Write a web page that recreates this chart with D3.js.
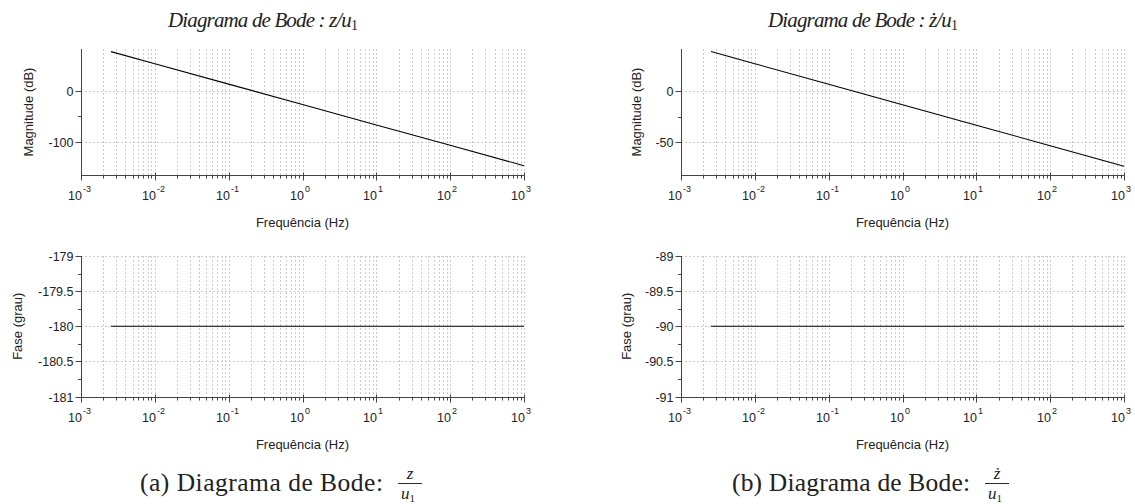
<!DOCTYPE html>
<html>
<head>
<meta charset="utf-8">
<script src="https://cdn.jsdelivr.net/npm/d3@7"></script>
<style>
  body { margin: 0; background: #fff; }
  text { fill: #222; }
</style>
</head>
<body>
<div id="chart"></div>
<script>
// values
var freqHz = [0.00255, 0.01, 0.1, 1, 10, 100, 1000];
var magZ = [76.9, 53.2, 13.2, -26.8, -66.8, -106.8, -146.8];
var magZdot = [38.5, 26.6, 6.6, -13.4, -33.4, -53.4, -73.4];
var phaseZ = [-180, -180, -180, -180, -180, -180, -180];
var phaseZdot = [-90, -90, -90, -90, -90, -90, -90];

var xTickExps = [-3, -2, -1, 0, 1, 2, 3];

var magTicksZ = [0, -100], magMinorZ = [-50];
var magTicksZdot = [0, -50], magMinorZdot = [-25];
var phaseTicksZ = [-179, -179.5, -180, -180.5, -181], phaseMinorZ = [-179.25, -179.75, -180.25, -180.75];
var phaseTicksZdot = [-89, -89.5, -90, -90.5, -91], phaseMinorZdot = [-89.25, -89.75, -90.25, -90.75];

var W = 1135, H = 504;
var plotW = 443;

var svg = d3.select("#chart").append("svg")
  .attr("width", W)
  .attr("height", H)
  .style("font-family", "'Liberation Sans', Arial, sans-serif");

var x = d3.scaleLog().domain([1e-3, 1e3]);

// minor decade positions for grid & ticks
var minorVals = [];
xTickExps.forEach(function(e) {
  if (e < 3) {
    for (var k = 2; k <= 9; k++) minorVals.push(k * Math.pow(10, e));
  }
});
var majorVals = xTickExps.map(function(e) { return Math.pow(10, e); });

function drawPlot(opts) {
  var g = svg.append("g").attr("transform", "translate(" + opts.left + "," + opts.top + ")");
  var h = opts.height;
  var xs = x.copy().range([0, plotW]);
  var ys = d3.scaleLinear().domain(opts.yDomain).range([h, 0]);

  // grid
  g.append("g").selectAll("line")
    .data(minorVals.concat(majorVals))
    .enter().append("line")
    .attr("x1", function(d) { return Math.round(xs(d)) + 0.5; })
    .attr("x2", function(d) { return Math.round(xs(d)) + 0.5; })
    .attr("y1", 0).attr("y2", h)
    .attr("stroke", "#cdcdcd")
    .attr("stroke-dasharray", "2,2");

  g.append("g").selectAll("line")
    .data(opts.yTicks)
    .enter().append("line")
    .attr("x1", 0).attr("x2", plotW)
    .attr("y1", function(d) { return Math.round(ys(d)) + 0.5; })
    .attr("y2", function(d) { return Math.round(ys(d)) + 0.5; })
    .attr("stroke", "#cdcdcd")
    .attr("stroke-dasharray", "2,2");

  // curve
  var line = d3.line()
    .x(function(d) { return xs(d[0]); })
    .y(function(d) { return ys(d[1]); });
  g.append("path")
    .datum(freqHz.map(function(f, i) { return [f, opts.values[i]]; }))
    .attr("d", line)
    .attr("fill", "none")
    .attr("stroke", "#000")
    .attr("stroke-width", 1.1);

  // y axis
  var yAxis = d3.axisLeft(ys).tickValues(opts.yTicks).tickSize(6).tickSizeOuter(0)
    .tickFormat(function(d) { return String(d); });
  var ya = g.append("g").attr("transform", "translate(0.5,0)").call(yAxis);
  ya.select(".domain").attr("d", "M0," + (Math.round(h) + 0.5) + "V0").attr("stroke", "#444");
  ya.selectAll(".tick line").attr("stroke", "#444");
  ya.selectAll(".tick text").attr("font-size", 12.5).attr("fill", "#222").attr("x", -8);
  ya.selectAll(".tick").attr("transform", function(d) { return "translate(0," + (Math.round(ys(d)) + 0.5) + ")"; });
  g.append("g").selectAll("line")
    .data(opts.yMinor)
    .enter().append("line")
    .attr("x1", -3).attr("x2", 0.5)
    .attr("y1", function(d) { return Math.round(ys(d)) + 0.5; })
    .attr("y2", function(d) { return Math.round(ys(d)) + 0.5; })
    .attr("stroke", "#444");

  // x axis
  var xa = g.append("g").attr("transform", "translate(0," + (Math.round(h) + 0.5) + ")");
  xa.append("line").attr("x1", 0).attr("x2", plotW + 1).attr("stroke", "#444");
  xa.selectAll(".minor")
    .data(minorVals)
    .enter().append("line")
    .attr("class", "minor")
    .attr("x1", function(d) { return Math.round(xs(d)) + 0.5; })
    .attr("x2", function(d) { return Math.round(xs(d)) + 0.5; })
    .attr("y1", 0).attr("y2", 3)
    .attr("stroke", "#444");
  xa.selectAll(".major")
    .data(majorVals)
    .enter().append("line")
    .attr("class", "major")
    .attr("x1", function(d) { return Math.round(xs(d)) + 0.5; })
    .attr("x2", function(d) { return Math.round(xs(d)) + 0.5; })
    .attr("y1", -3).attr("y2", 5)
    .attr("stroke", "#444");

  var lab = xa.selectAll(".xlab")
    .data(xTickExps)
    .enter().append("g")
    .attr("class", "xlab")
    .attr("transform", function(d) { return "translate(" + Math.round(xs(Math.pow(10, d))) + ",0)"; });
  lab.append("text")
    .attr("x", 1).attr("y", 24)
    .attr("text-anchor", "end")
    .attr("font-size", 12.5)
    .text("10");
  lab.append("text")
    .attr("x", 2).attr("y", 16)
    .attr("text-anchor", "start")
    .attr("font-size", 9)
    .text(function(d) { return d; });

  g.append("text")
    .attr("x", plotW / 2).attr("y", h + 52)
    .attr("text-anchor", "middle")
    .attr("font-size", 13)
    .text("Frequência (Hz)");

  g.append("text")
    .attr("transform", "translate(" + opts.yLabelX + "," + (h / 2) + ") rotate(-90)")
    .attr("text-anchor", "middle")
    .attr("dominant-baseline", "central")
    .attr("font-size", 13)
    .text(opts.yLabel);
}

var panels = [
  { left: 81, mag: magZ, magDomain: [-165, 82], magTicks: magTicksZ, magMinor: magMinorZ,
    phase: phaseZ, phaseDomain: [-181, -179], phaseTicks: phaseTicksZ, phaseMinor: phaseMinorZ,
    magLabX: -53, phLabX: -64, dot: false, letter: "(a)", capX: 140, capW: 243 },
  { left: 681, mag: magZdot, magDomain: [-82, 41], magTicks: magTicksZdot, magMinor: magMinorZdot,
    phase: phaseZdot, phaseDomain: [-91, -89], phaseTicks: phaseTicksZdot, phaseMinor: phaseMinorZdot,
    magLabX: -45, phLabX: -55, dot: true, letter: "(b)", capX: 732, capW: 238 }
];

panels.forEach(function(p) {
  drawPlot({ left: p.left, top: 49, height: 126, yDomain: p.magDomain, yTicks: p.magTicks,
    yMinor: p.magMinor, values: p.mag, yLabel: "Magnitude (dB)", yLabelX: p.magLabX });
  drawPlot({ left: p.left, top: 256, height: 140.5, yDomain: p.phaseDomain, yTicks: p.phaseTicks,
    yMinor: p.phaseMinor, values: p.phase, yLabel: "Fase (grau)", yLabelX: p.phLabX });

  // title (math italic look)
  var t = svg.append("text")
    .attr("x", p.left + 87).attr("y", 27)
    .attr("font-family", "'Liberation Serif', 'DejaVu Serif', serif")
    .attr("font-style", "italic")
    .attr("font-size", 21)
    .attr("textLength", 190)
    .attr("lengthAdjust", "spacing");
  t.append("tspan").text("Diagrama de Bode :  " + (p.dot ? "ż" : "z") + "/u");
  t.append("tspan").attr("font-style", "normal").attr("font-size", 14).attr("dy", 3).text("1");

  // caption
  svg.append("text")
    .attr("x", p.capX).attr("y", 491)
    .attr("font-family", "'Liberation Serif', 'DejaVu Serif', serif")
    .attr("font-size", 25.5)
    .attr("textLength", p.capW)
    .attr("lengthAdjust", "spacing")
    .text(p.letter + " Diagrama de Bode:");
  var fx = p.capX + p.capW + 27;
  svg.append("text")
    .attr("x", fx).attr("y", 479)
    .attr("text-anchor", "middle")
    .attr("font-family", "'Liberation Serif', serif")
    .attr("font-style", "italic")
    .attr("font-size", 17)
    .text(p.dot ? "ż" : "z");
  svg.append("line")
    .attr("x1", fx - 12).attr("x2", fx + 12)
    .attr("y1", 483.5).attr("y2", 483.5)
    .attr("stroke", "#111").attr("stroke-width", 0.9);
  var den = svg.append("text")
    .attr("x", fx - 2).attr("y", 499)
    .attr("text-anchor", "middle")
    .attr("font-family", "'Liberation Serif', serif")
    .attr("font-style", "italic")
    .attr("font-size", 17);
  den.append("tspan").text("u");
  den.append("tspan").attr("font-style", "normal").attr("font-size", 11).attr("dy", 3).text("1");
});
</script>
</body>
</html>
